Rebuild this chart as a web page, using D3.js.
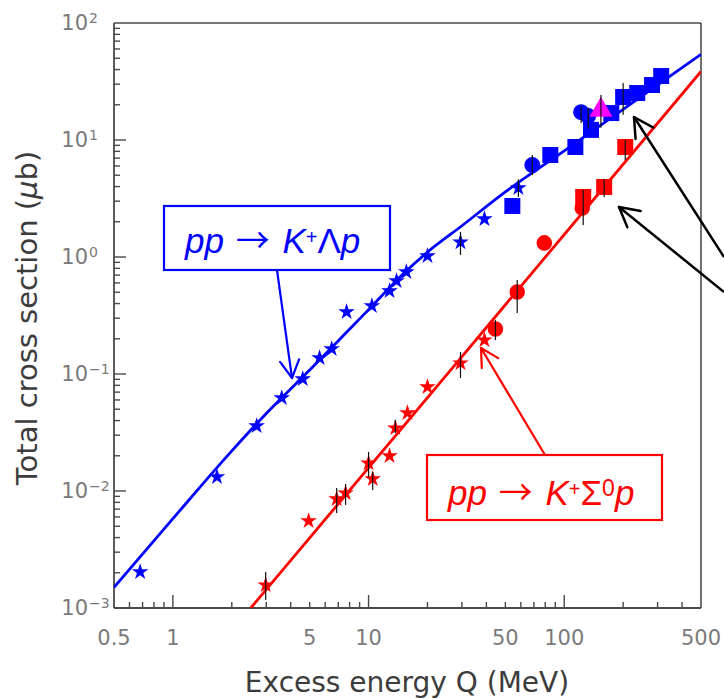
<!DOCTYPE html>
<html>
<head>
<meta charset="utf-8">
<script src="https://cdn.jsdelivr.net/npm/d3@7"></script>
<style>
  body { margin: 0; background: #fff; }
  svg { display: block; }
</style>
</head>
<body>
<svg id="chart" width="724" height="699"></svg>
<script>
// ---- axis ticks ----
const xTickLabels = [0.5, 1, 5, 10, 50, 100, 500];
const yTickExponents = [-3, -2, -1, 0, 1, 2];

// ---- fitted curves (Q in MeV, sigma in microbarn) ----
const lambdaFitQ = [0.5, 1, 2, 3, 5, 10, 15, 20, 30, 50, 100, 200, 500];
const lambdaFitS = [1.5e-3, 5.8e-3, 0.022, 0.046, 0.108, 0.355, 0.715, 1.1, 1.85, 3.6, 8.07, 18.3, 54];
const sigmaFitQ = [2.5, 25, 500];
const sigmaFitS = [1.0e-3, 0.098, 38.5];

// ---- pp -> K+ Lambda p ----
const lambdaStarQ = [0.68, 1.68, 2.68, 3.6, 4.61, 5.62, 6.48, 7.72, 10.4, 12.8, 13.9, 15.6, 20.0, 29.5, 39.1, 58.3];
const lambdaStarS = [2.03e-3, 0.0132, 0.0359, 0.0624, 0.0906, 0.137, 0.164, 0.339, 0.381, 0.512, 0.624, 0.744, 1.02, 1.34, 2.11, 3.89];
const lambdaCircleQ = [68.7, 122, 132.6];
const lambdaCircleS = [6.11, 17.3, 16.0];
const lambdaSquareQ = [54.3, 84.9, 114, 137, 174, 200, 236, 281, 313];
const lambdaSquareS = [2.73, 7.44, 8.71, 12.2, 17.0, 23.3, 25.2, 29.5, 35.2];
const lambdaTriangleQ = [154];
const lambdaTriangleS = [18.0];

// ---- pp -> K+ Sigma0 p ----
const sigmaStarQ = [2.98, 4.94, 6.87, 7.63, 10.0, 10.5, 12.8, 13.7, 15.8, 20.0, 29.5, 39.1];
const sigmaStarS = [1.57e-3, 5.54e-3, 8.55e-3, 9.6e-3, 0.0173, 0.0127, 0.0199, 0.0345, 0.0464, 0.0774, 0.124, 0.195];
const sigmaCircleQ = [44.5, 57.5, 79.1, 123.6];
const sigmaCircleS = [0.242, 0.502, 1.32, 2.62];
const sigmaSquareQ = [125, 160, 205];
const sigmaSquareS = [3.26, 3.97, 8.71];

// ---- error bars: Q, lower sigma, upper sigma ----
const errQ  = [2.98, 6.87, 7.63, 10.0, 10.5, 13.7, 29.5, 44.5, 57.5, 125, 160, 205, 29.5, 58.3, 68.7, 122, 132.6, 154, 200];
const errLo = [1.17e-3, 6.5e-3, 7.6e-3, 0.0132, 0.0102, 0.0313, 0.0925, 0.195, 0.332, 1.88, 3.26, 6.75, 1.04, 3.26, 5.02, 14.0, 12.5, 12.7, 16.4];
const errHi = [2.03e-3, 0.0106, 0.0115, 0.0216, 0.0145, 0.0404, 0.154, 0.29, 0.636, 3.74, 4.64, 10.0, 1.64, 4.6, 7.44, 19.5, 19.0, 24.2, 30.7];

const svg = d3.select("#chart");
const pLeft = 114, pRight = 701, pTop = 23, pBottom = 608;

const x = d3.scaleLog().domain([0.5, 500]).range([pLeft, pRight]);
const y = d3.scaleLog().domain([1e-3, 1e2]).range([pBottom, pTop]);

const BLUE = "#0000ff", RED = "#ff0000", MAGENTA = "#ff00ff";
const AXIS = "#4a4a4a", TICKTEXT = "#7a7a7a", TITLE = "#3c3c3c";

// clip region for the curves
svg.append("defs").append("clipPath").attr("id", "plot")
  .append("rect").attr("x", pLeft).attr("y", pTop)
  .attr("width", pRight - pLeft).attr("height", pBottom - pTop);

// ---- frame ----
const frame = svg.append("g");
frame.append("line").attr("x1", pLeft).attr("x2", pRight).attr("y1", pTop).attr("y2", pTop)
  .attr("stroke", AXIS).attr("stroke-width", 1.5);
frame.append("line").attr("x1", pRight).attr("x2", pRight).attr("y1", pTop).attr("y2", pBottom)
  .attr("stroke", "#111").attr("stroke-width", 1.2);
frame.append("line").attr("x1", pLeft).attr("x2", pLeft).attr("y1", pTop).attr("y2", pBottom)
  .attr("stroke", AXIS).attr("stroke-width", 1.8);
frame.append("line").attr("x1", pLeft).attr("x2", pRight).attr("y1", pBottom).attr("y2", pBottom)
  .attr("stroke", AXIS).attr("stroke-width", 1.8);

const isDecade = v => Math.abs(Math.log10(v) - Math.round(Math.log10(v))) < 1e-9;

// x ticks, pointing into the plot
const xt = svg.append("g");
x.ticks().filter(v => v > 0.5 && v < 500).forEach(v => {
  const len = isDecade(v) ? 13 : 6;
  xt.append("line").attr("x1", x(v)).attr("x2", x(v))
    .attr("y1", pBottom).attr("y2", pBottom - len)
    .attr("stroke", AXIS).attr("stroke-width", 1.4);
});
xTickLabels.forEach(v => {
  xt.append("text").attr("x", x(v)).attr("y", 645)
    .attr("text-anchor", "middle")
    .attr("font-family", "DejaVu Sans").attr("font-size", 21)
    .attr("fill", TICKTEXT).text(v);
});

// y ticks, pointing into the plot
const yt = svg.append("g");
y.ticks().filter(v => v > 1e-3 && v < 1e2).forEach(v => {
  const len = isDecade(v) ? 12 : 6;
  yt.append("line").attr("x1", pLeft).attr("x2", pLeft + len)
    .attr("y1", y(v)).attr("y2", y(v))
    .attr("stroke", AXIS).attr("stroke-width", 1.4);
});
yTickExponents.forEach(e => {
  const py = y(Math.pow(10, e));
  yt.append("text").attr("x", 88).attr("y", py + 7)
    .attr("text-anchor", "end")
    .attr("font-family", "DejaVu Sans").attr("font-size", 21)
    .attr("fill", TICKTEXT).text("10");
  yt.append("text").attr("x", 89).attr("y", py)
    .attr("font-family", "DejaVu Sans").attr("font-size", 14)
    .attr("fill", TICKTEXT).text(e < 0 ? "\u2212" + (-e) : String(e));
});

// axis titles
svg.append("text").attr("x", 407).attr("y", 692)
  .attr("text-anchor", "middle")
  .attr("font-family", "DejaVu Sans").attr("font-size", 28)
  .attr("fill", TITLE).text("Excess energy Q (MeV)");

const yTitle = svg.append("text")
  .attr("transform", "translate(37,318) rotate(-90)")
  .attr("text-anchor", "middle")
  .attr("font-family", "DejaVu Sans").attr("font-size", 29)
  .attr("fill", TITLE);
yTitle.append("tspan").text("Total cross section (");
yTitle.append("tspan").attr("font-style", "italic").text("\u03bc");
yTitle.append("tspan").text("b)");

// ---- fitted curves ----
const line = d3.line().x(d => x(d[0])).y(d => y(d[1])).curve(d3.curveMonotoneX);
const curves = svg.append("g").attr("clip-path", "url(#plot)");
curves.append("path").datum(d3.zip(lambdaFitQ, lambdaFitS)).attr("d", line)
  .attr("fill", "none").attr("stroke", BLUE).attr("stroke-width", 2.8);
curves.append("path").datum(d3.zip(sigmaFitQ, sigmaFitS)).attr("d", d3.line().x(d => x(d[0])).y(d => y(d[1])))
  .attr("fill", "none").attr("stroke", RED).attr("stroke-width", 2.8);

// ---- markers ----
const marks = svg.append("g");
function drawSymbols(qs, ss, type, size, color) {
  marks.selectAll(null).data(d3.zip(qs, ss)).join("path")
    .attr("d", d3.symbol(type, size)())
    .attr("transform", d => `translate(${x(d[0])},${y(d[1])})`)
    .attr("fill", color);
}
drawSymbols(lambdaStarQ, lambdaStarS, d3.symbolStar, 85, BLUE);
drawSymbols(lambdaSquareQ, lambdaSquareS, d3.symbolSquare, 256, BLUE);
drawSymbols(lambdaCircleQ, lambdaCircleS, d3.symbolCircle, 201, BLUE);
drawSymbols(sigmaStarQ, sigmaStarS, d3.symbolStar, 85, RED);
drawSymbols(sigmaCircleQ, sigmaCircleS, d3.symbolCircle, 190, RED);
drawSymbols(sigmaSquareQ, sigmaSquareS, d3.symbolSquare, 256, RED);
drawSymbols(lambdaTriangleQ, lambdaTriangleS, d3.symbolTriangle, 230, MAGENTA);

// error bars
svg.append("g").selectAll("line").data(d3.range(errQ.length)).join("line")
  .attr("x1", i => x(errQ[i])).attr("x2", i => x(errQ[i]))
  .attr("y1", i => y(errLo[i])).attr("y2", i => y(errHi[i]))
  .attr("stroke", "#111").attr("stroke-width", 1.2);

// ---- reaction labels ----
function reaction(px, py, parts, color) {
  const t = svg.append("text").attr("x", px).attr("y", py)
    .attr("font-family", "Liberation Sans, Arial, sans-serif").attr("font-size", 35)
    .attr("fill", color);
  parts.forEach(p => {
    const s = t.append("tspan").text(p.t);
    if (p.it) s.attr("font-style", "italic");
    if (p.arrow) s.attr("font-family", "Noto Sans CJK SC").attr("font-size", 34).attr("dx", 2);
    if (p.gap) s.attr("dx", p.gap);
    if (p.sup) s.attr("font-size", p.sup).attr("dy", -9);
    if (p.down) s.attr("dy", 9);
  });
}
function arrow(g, x1, y1, x2, y2, color, w, head) {
  g.append("line").attr("x1", x1).attr("y1", y1).attr("x2", x2).attr("y2", y2)
    .attr("stroke", color).attr("stroke-width", w);
  const a = Math.atan2(y2 - y1, x2 - x1);
  [-0.5, 0.5].forEach(o => {
    g.append("line").attr("x1", x2).attr("y1", y2)
      .attr("x2", x2 - head * Math.cos(a + o)).attr("y2", y2 - head * Math.sin(a + o))
      .attr("stroke", color).attr("stroke-width", w).attr("stroke-linecap", "round");
  });
}
const ann = svg.append("g");
ann.append("rect").attr("x", 164).attr("y", 206).attr("width", 226).attr("height", 64)
  .attr("fill", "#fff").attr("stroke", BLUE).attr("stroke-width", 2.2);
reaction(185, 253, [
  { t: "pp", it: true }, { t: " " }, { t: "\u2192", arrow: true }, { t: " " }, { t: "K", it: true, gap: 3 },
  { t: "+", sup: 20 }, { t: "\u039b", down: true }, { t: "p", it: true }
], BLUE);
arrow(ann, 277, 270, 292, 378, BLUE, 2.2, 20);

ann.append("rect").attr("x", 427).attr("y", 455).attr("width", 235).attr("height", 65)
  .attr("fill", "#fff").attr("stroke", RED).attr("stroke-width", 2.2);
reaction(448, 505, [
  { t: "pp", it: true }, { t: " " }, { t: "\u2192", arrow: true }, { t: " " }, { t: "K", it: true, gap: 3 },
  { t: "+", sup: 20 }, { t: "\u03a3", down: true }, { t: "0", sup: 23 },
  { t: "p", it: true, down: true }
], RED);
arrow(ann, 545, 455, 481, 348, RED, 2.2, 20);

arrow(ann, 724, 257, 634, 117, "#000", 2.5, 22);
arrow(ann, 724, 292, 619, 207, "#000", 2.5, 22);
</script>
</body>
</html>
